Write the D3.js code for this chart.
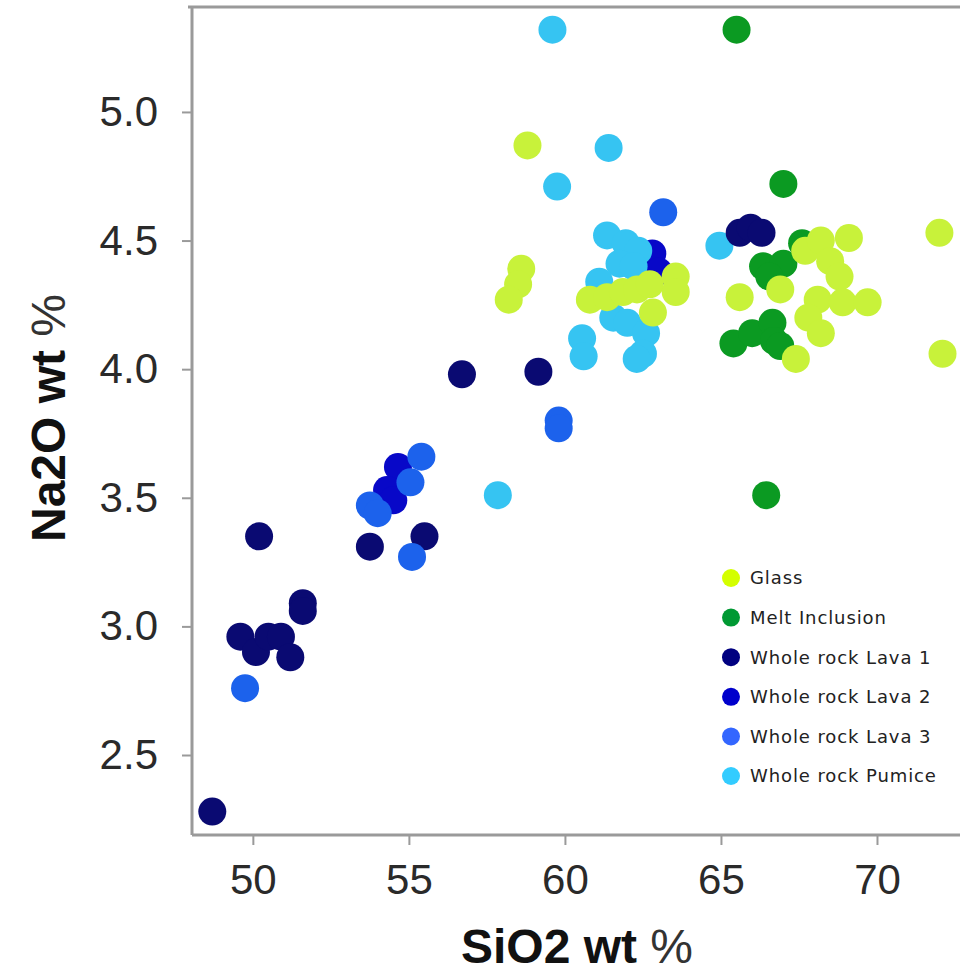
<!DOCTYPE html>
<html>
<head>
<meta charset="utf-8">
<script src="https://cdn.jsdelivr.net/npm/d3@7"></script>
<style>
  html, body { margin: 0; padding: 0; background: #fff; }
  svg { display: block; }
</style>
</head>
<body>
<svg id="chart" width="960" height="974"></svg>
<script>
// ---------- data (SiO2 wt %, Na2O wt %) ----------
const seriesNames = ["Glass", "Melt Inclusion", "Whole rock Lava 1", "Whole rock Lava 2", "Whole rock Lava 3", "Whole rock Pumice"];
const seriesColors = ["#c8f23a", "#0b9a22", "#0a0a72", "#0808c8", "#1c62ec", "#36c4f2"];
const legendColors = ["#d4ff00", "#009933", "#000080", "#0000cc", "#3366ff", "#33ccff"];

const glass = [
  [58.8, 4.87], [58.6, 4.39], [58.5, 4.33], [58.2, 4.27],
  [60.8, 4.27], [61.35, 4.28], [61.86, 4.30], [62.31, 4.31], [62.72, 4.33],
  [63.55, 4.36], [63.55, 4.30], [62.82, 4.22],
  [65.6, 4.28], [66.9, 4.31], [67.7, 4.46], [68.2, 4.50], [69.1, 4.51],
  [68.5, 4.42], [68.8, 4.36], [68.1, 4.27], [68.9, 4.26], [69.7, 4.26],
  [67.8, 4.20], [68.2, 4.14], [67.4, 4.04], [72.0, 4.53], [72.1, 4.06]
];
const meltInclusion = [
  [65.5, 5.32], [67.0, 4.72], [66.45, 3.51],
  [67.6, 4.49], [66.35, 4.40], [67.0, 4.41], [66.55, 4.36],
  [65.4, 4.10], [66.0, 4.14], [66.65, 4.18], [66.7, 4.11], [66.9, 4.09]
];
const lava1 = [
  [48.7, 2.28], [50.2, 3.35], [49.6, 2.96], [50.1, 2.90], [50.5, 2.96],
  [50.9, 2.96], [51.2, 2.88], [51.6, 3.09], [51.6, 3.06], [53.75, 3.31],
  [55.5, 3.35], [56.7, 3.98], [59.15, 3.99], [65.6, 4.53], [65.95, 4.55], [66.3, 4.53]
];
const lava2 = [
  [54.65, 3.62], [54.3, 3.53], [54.5, 3.49], [62.8, 4.45], [63.0, 4.38]
];
const lava3 = [
  [49.75, 2.76], [55.1, 3.27], [53.75, 3.47], [54.0, 3.44], [55.05, 3.56],
  [55.4, 3.66], [63.15, 4.61], [59.8, 3.80], [59.8, 3.77]
];
const pumice = [
  [59.6, 5.32], [61.4, 4.86], [59.75, 4.71], [57.85, 3.51],
  [60.55, 4.12], [60.6, 4.05], [64.95, 4.48],
  [61.35, 4.52], [61.95, 4.49], [62.35, 4.46], [61.75, 4.41], [62.2, 4.40],
  [61.1, 4.34], [61.55, 4.20], [62.0, 4.18], [62.6, 4.14], [62.5, 4.06], [62.3, 4.04]
];
const xTicks = [50, 55, 60, 65, 70];
const yTicks = [2.5, 3.0, 3.5, 4.0, 4.5, 5.0];
const xTitle = "SiO2 wt ";
const yTitle = "Na2O wt ";

const seriesData = [glass, meltInclusion, lava1, lava2, lava3, pumice];
// draw order (bottom to top)
const drawOrder = [3, 5, 2, 4, 1, 0];

// ---------- layout ----------
const svg = d3.select("#chart");
const mLeft = 192, mRight = 960, mTop = 7, mBottom = 835;

const x = d3.scaleLinear().domain([48.05, 72.66]).range([mLeft, mRight]);
const y = d3.scaleLinear().domain([2.189, 5.408]).range([mBottom, mTop]);

const axisColor = "#9a9a9a";

// points
const pts = svg.append("g");
drawOrder.forEach(si => {
  pts.append("g").selectAll("circle")
    .data(seriesData[si])
    .join("circle")
    .attr("cx", d => x(d[0]))
    .attr("cy", d => y(d[1]))
    .attr("r", 14)
    .attr("fill", seriesColors[si]);
});

// frame top line
svg.append("line")
  .attr("x1", mLeft - 4).attr("x2", mRight).attr("y1", mTop).attr("y2", mTop)
  .attr("stroke", axisColor).attr("stroke-width", 3);

// x axis
const xAxis = svg.append("g")
  .attr("transform", `translate(0,${mBottom})`)
  .call(d3.axisBottom(x).tickValues(xTicks).tickFormat(d3.format("d")).tickSize(10).tickPadding(19).tickSizeOuter(0));
// y axis
const yAxis = svg.append("g")
  .attr("transform", `translate(${mLeft},0)`)
  .call(d3.axisLeft(y).tickValues(yTicks).tickFormat(d3.format(".1f")).tickSize(10).tickPadding(24).tickSizeOuter(0));

[xAxis, yAxis].forEach(a => {
  a.select(".domain").attr("stroke", axisColor).attr("stroke-width", 3);
  a.selectAll(".tick line").attr("stroke", axisColor).attr("stroke-width", 2);
  a.selectAll(".tick text")
    .attr("fill", "#2a2a2a")
    .style("font-family", "'Liberation Sans', Arial, sans-serif")
    .style("font-size", "42px");
});
yAxis.select(".domain").attr("d", `M0,${mTop}V${mBottom}`);
xAxis.select(".domain").attr("d", `M${mLeft},0H${mRight}`);

// axis titles
const xt = svg.append("text")
  .attr("x", 577).attr("y", 963)
  .attr("text-anchor", "middle")
  .style("font-family", "'Liberation Sans', Arial, sans-serif")
  .style("font-size", "48px")
  .attr("fill", "#111");
xt.append("tspan").style("font-weight", "bold").text(xTitle);
xt.append("tspan").attr("fill", "#333").text("%");

const yt = svg.append("text")
  .attr("transform", "translate(65,418) rotate(-90)")
  .attr("text-anchor", "middle")
  .style("font-family", "'Liberation Sans', Arial, sans-serif")
  .style("font-size", "48px")
  .attr("fill", "#111");
yt.append("tspan").style("font-weight", "bold").text(yTitle);
yt.append("tspan").attr("fill", "#333").text("%");

// legend
const legend = svg.append("g").attr("transform", "translate(731,578)");
const rows = legend.selectAll("g").data(seriesNames).join("g")
  .attr("transform", (d, i) => `translate(0,${i * 39.6})`);
rows.append("circle").attr("r", 9).attr("fill", (d, i) => legendColors[i]);
rows.append("text")
  .attr("x", 19).attr("dy", "0.35em")
  .style("font-family", "'DejaVu Sans', Verdana, sans-serif")
  .style("font-size", "18px")
  .style("letter-spacing", "0.9px")
  .attr("fill", "#222")
  .text(d => d);
</script>
</body>
</html>
